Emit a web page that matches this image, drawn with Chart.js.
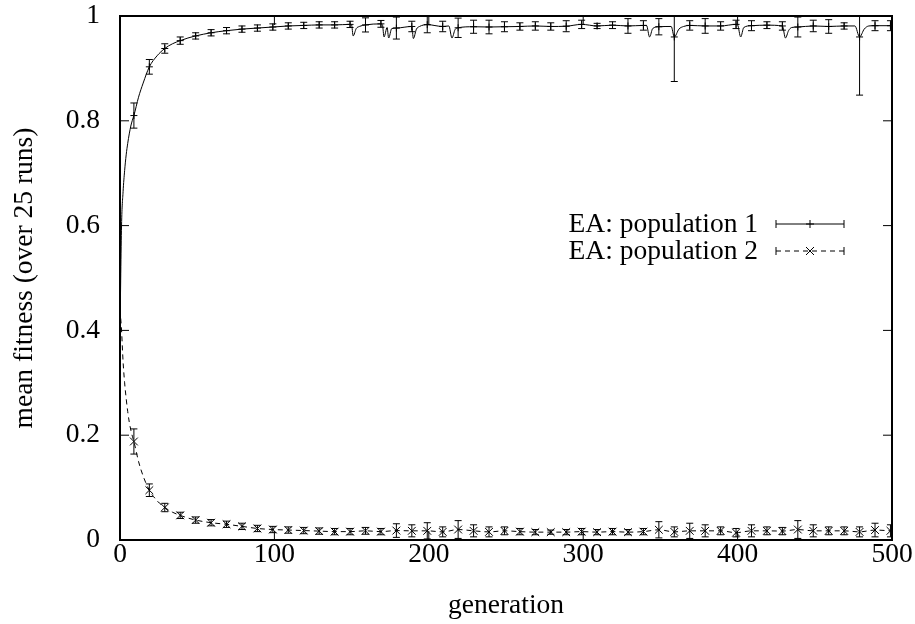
<!DOCTYPE html>
<html><head><meta charset="utf-8">
<script src="https://cdn.jsdelivr.net/npm/chart.js@4/dist/chart.umd.min.js"></script>
<style>html,body{margin:0;padding:0;background:#fff}#wrap{width:915px;height:624px}</style>
</head><body><div id="wrap"><canvas id="c" width="915" height="624"></canvas></div>
<script>
// ---- data ----
const xTicks = [0, 100, 200, 300, 400, 500];
const xTickLabels = ['0', '100', '200', '300', '400', '500'];
const yTicks = [0, 0.2, 0.4, 0.6, 0.8, 1];
const yTickLabels = ['0', '0.2', '0.4', '0.6', '0.8', '1'];
const seriesNames = ['EA: population 1', 'EA: population 2'];

// generations at which error bars / markers are drawn
const markGens = [9,19,29,39,49,59,69,79,89,99,109,119,129,139,149,159,169,179,189,199,
                  209,219,229,239,249,259,269,279,289,299,309,319,329,339,349,359,369,379,389,399,
                  409,419,429,439,449,459,469,479,489,499];

const p1Mean = [0.810,0.903,0.938,0.953,0.962,0.968,0.972,0.975,0.977,0.979,
                0.981,0.982,0.983,0.983,0.984,0.983,0.985,0.977,0.980,0.9835,
                0.980,0.9775,0.9795,0.979,0.9795,0.980,0.981,0.980,0.9805,0.984,
                0.981,0.9825,0.981,0.982,0.9795,0.960,0.982,0.981,0.981,0.984,
                0.9815,0.9825,0.981,0.979,0.981,0.980,0.981,0.960,0.9815,0.9815];
const p1Err  = [0.024,0.014,0.009,0.007,0.006,0.006,0.006,0.006,0.006,0.006,
                0.006,0.006,0.006,0.006,0.006,0.0135,0.0065,0.021,0.010,0.0155,
                0.010,0.0185,0.0125,0.013,0.0095,0.007,0.008,0.007,0.0105,0.008,
                0.005,0.0065,0.014,0.009,0.0155,0.085,0.009,0.014,0.008,0.008,
                0.0095,0.0065,0.008,0.019,0.011,0.013,0.006,0.111,0.0095,0.0095];

const p2Mean = [0.188,0.095,0.062,0.047,0.038,0.033,0.030,0.026,0.022,0.020,
                0.019,0.018,0.017,0.016,0.016,0.0175,0.016,0.018,0.0175,0.0175,
                0.0155,0.020,0.0175,0.0155,0.0175,0.016,0.015,0.015,0.015,0.016,
                0.015,0.016,0.015,0.016,0.0195,0.0155,0.0175,0.0175,0.0175,0.014,
                0.0175,0.0175,0.017,0.020,0.0175,0.0175,0.0175,0.0155,0.019,0.0175];
const p2Err  = [0.024,0.012,0.008,0.006,0.006,0.006,0.006,0.006,0.006,0.006,
                0.006,0.006,0.006,0.006,0.006,0.0065,0.006,0.013,0.0115,0.0155,
                0.0095,0.017,0.0115,0.0095,0.0075,0.006,0.005,0.004,0.005,0.006,
                0.005,0.006,0.005,0.006,0.0155,0.0095,0.0145,0.0115,0.0075,0.008,
                0.0115,0.0075,0.007,0.017,0.0115,0.0075,0.0075,0.0095,0.013,0.0115];

// extra per-generation points of the curves between markers (start, dips)
const p1ExtraGen = [0,1,2,3,4,5,6,7,8,12,15,24,34,44,150,151,153,155,170,171,173,174,176,
                    190,192,194,213,215,217,341,343,345,357,362,365,400,402,404,431,433,435,476,482,485];
const p1ExtraVal = [0.40,0.60,0.665,0.705,0.735,0.757,0.775,0.790,0.801,0.845,0.872,0.924,0.947,0.958,
                    0.983,0.962,0.976,0.980,0.983,0.960,0.978,0.958,0.976,
                    0.957,0.975,0.980,0.981,0.958,0.974,0.982,0.960,0.976,0.980,0.975,0.980,
                    0.983,0.960,0.978,0.958,0.972,0.978,0.981,0.975,0.981];
const p2ExtraGen = [0,1,2,3,4,5,6,7,8,12,15,24,34,44];
const p2ExtraVal = [0.44,0.40,0.34,0.30,0.27,0.245,0.225,0.21,0.198,0.150,0.122,0.075,0.053,0.042];

// ---- build library data ----
function merge(gA, vA, gB, vB){
  const pts = gA.map((g,i)=>({x:g,y:vA[i]})).concat(gB.map((g,i)=>({x:g,y:vB[i]})));
  pts.sort((a,b)=>a.x-b.x);
  return pts;
}
const p1Line = merge(p1ExtraGen, p1ExtraVal, markGens, p1Mean);
const p2Line = merge(p2ExtraGen, p2ExtraVal, markGens, p2Mean);
const p1Pts = markGens.map((g,i)=>({x:g,y:p1Mean[i]}));
const p2Pts = markGens.map((g,i)=>({x:g,y:p2Mean[i]}));

const FONT = '"Liberation Serif","Times New Roman",Times,serif';
const FS = 27.5;

const gnuplotPlugin = {
  id: 'gnuplotLook',
  afterDatasetsDraw(chart){
    const ctx = chart.ctx, a = chart.chartArea, xs = chart.scales.x, ys = chart.scales.y;
    ctx.save();
    ctx.beginPath(); ctx.rect(a.left, a.top, a.right - a.left, a.bottom - a.top); ctx.clip();
    ctx.strokeStyle = '#000'; ctx.lineWidth = 1;
    const bars = (means, errs) => {
      markGens.forEach((g,i)=>{
        const x = xs.getPixelForValue(g);
        const y1 = ys.getPixelForValue(means[i] - errs[i]);
        const y2 = ys.getPixelForValue(means[i] + errs[i]);
        ctx.beginPath();
        ctx.moveTo(x, y1); ctx.lineTo(x, y2);
        ctx.moveTo(x - 3.5, y1); ctx.lineTo(x + 3.5, y1);
        ctx.moveTo(x - 3.5, y2); ctx.lineTo(x + 3.5, y2);
        ctx.stroke();
      });
    };
    bars(p1Mean, p1Err);
    bars(p2Mean, p2Err);
    ctx.restore();

    // frame and inward ticks
    ctx.save();
    ctx.strokeStyle = '#000';
    ctx.lineWidth = 1;
    const TL = 9;
    ctx.beginPath();
    xTicks.forEach(v=>{
      const x = xs.getPixelForValue(v);
      ctx.moveTo(x, a.bottom); ctx.lineTo(x, a.bottom - TL);
      ctx.moveTo(x, a.top); ctx.lineTo(x, a.top + TL);
    });
    yTicks.forEach(v=>{
      const y = ys.getPixelForValue(v);
      ctx.moveTo(a.left, y); ctx.lineTo(a.left + TL, y);
      ctx.moveTo(a.right, y); ctx.lineTo(a.right - TL, y);
    });
    ctx.stroke();
    ctx.lineWidth = 2;
    ctx.strokeRect(a.left, a.top, a.right - a.left, a.bottom - a.top);
    ctx.restore();

    // key (legend)
    ctx.save();
    ctx.font = FS + 'px ' + FONT;
    ctx.fillStyle = '#000';
    ctx.textAlign = 'right';
    ctx.textBaseline = 'middle';
    const rows = [224, 251];
    const sx1 = 776, sx2 = 844, smid = 810;
    rows.forEach((ry, k)=>{
      ctx.fillText(seriesNames[k], 758, ry + 1);
      ctx.strokeStyle = '#000';
      ctx.lineWidth = 1;
      ctx.setLineDash(k === 1 ? [5,4] : []);
      ctx.beginPath(); ctx.moveTo(sx1, ry); ctx.lineTo(sx2, ry); ctx.stroke();
      ctx.setLineDash([]);
      ctx.beginPath();
      ctx.moveTo(sx1, ry - 4); ctx.lineTo(sx1, ry + 4);
      ctx.moveTo(sx2, ry - 4); ctx.lineTo(sx2, ry + 4);
      if (k === 0) {
        ctx.moveTo(smid - 4, ry); ctx.lineTo(smid + 4, ry);
        ctx.moveTo(smid, ry - 4); ctx.lineTo(smid, ry + 4);
      } else {
        ctx.moveTo(smid - 4, ry - 4); ctx.lineTo(smid + 4, ry + 4);
        ctx.moveTo(smid - 4, ry + 4); ctx.lineTo(smid + 4, ry - 4);
      }
      ctx.stroke();
    });
    ctx.restore();
  }
};

new Chart(document.getElementById('c'), {
  type: 'scatter',
  data: {
    datasets: [
      { label: seriesNames[0], data: p1Line, showLine: true, borderColor: '#000', borderWidth: 1,
        pointRadius: 0, cubicInterpolationMode: 'monotone', fill: false },
      { label: seriesNames[1], data: p2Line, showLine: true, borderColor: '#000', borderWidth: 1,
        borderDash: [5,4], pointRadius: 0, cubicInterpolationMode: 'monotone', fill: false },
      { label: seriesNames[0] + ' points', data: p1Pts, showLine: false, pointStyle: 'cross',
        pointRadius: 3.5, borderColor: '#000', borderWidth: 1, backgroundColor: '#000' },
      { label: seriesNames[1] + ' points', data: p2Pts, showLine: false, pointStyle: 'crossRot',
        pointRadius: 5.5, borderColor: '#000', borderWidth: 1, backgroundColor: '#000' }
    ]
  },
  options: {
    responsive: false,
    animation: false,
    devicePixelRatio: 1,
    layout: { padding: { top: 16, right: 23, bottom: 0, left: 0 } },
    plugins: { legend: { display: false }, tooltip: { enabled: false } },
    scales: {
      x: {
        type: 'linear', min: 0, max: 500,
        afterBuildTicks: s => { s.ticks = xTicks.map(v => ({ value: v })); },
        afterFit: s => { s.height = 84; s.paddingLeft = 0; s.paddingRight = 0; },
        grid: { display: false, drawTicks: false },
        border: { display: false },
        ticks: { color: '#000', padding: 1.5, maxRotation: 0, autoSkip: false,
                 callback: (v) => xTickLabels[xTicks.indexOf(v)],
                 font: { family: FONT, size: FS, lineHeight: 1 } },
        title: { display: true, text: 'generation', color: '#000',
                 font: { family: FONT, size: FS, lineHeight: 1.2 }, padding: { top: 0, bottom: 2 } }
      },
      y: {
        type: 'linear', min: 0, max: 1,
        afterBuildTicks: s => { s.ticks = yTicks.map(v => ({ value: v })); },
        afterFit: s => { s.width = 120; s.paddingTop = 0; s.paddingBottom = 0; },
        grid: { display: false, drawTicks: false },
        border: { display: false },
        ticks: { color: '#000', padding: 20, autoSkip: false,
                 callback: (v) => yTickLabels[yTicks.indexOf(v)],
                 font: { family: FONT, size: FS, lineHeight: 1 } },
        title: { display: true, text: 'mean fitness (over 25 runs)', color: '#000',
                 font: { family: FONT, size: FS, lineHeight: 1.2 }, padding: { top: 8, bottom: 0 } }
      }
    }
  },
  plugins: [gnuplotPlugin]
});
</script>
</body></html>
